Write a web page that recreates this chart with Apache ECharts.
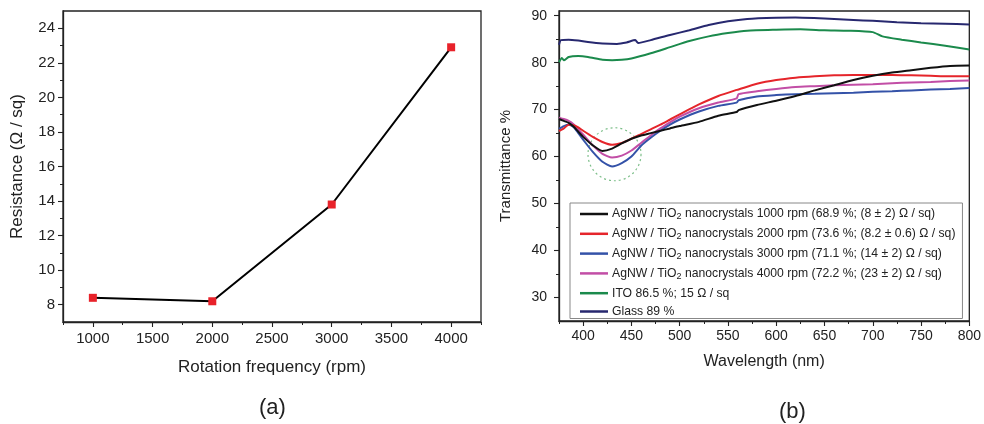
<!DOCTYPE html>
<html><head><meta charset="utf-8">
<script src="https://cdn.jsdelivr.net/npm/echarts@6/dist/echarts.min.js"></script>
<style>html,body{margin:0;padding:0;background:#fff}#c{width:984px;height:424px}</style>
</head><body><div id="c"></div>
<script>
// ---- panel (a) ----
const rpm = [1000, 2000, 3000, 4000];
const resistance = [8.4, 8.2, 13.8, 22.9];
const rpmTicks = [1000, 1500, 2000, 2500, 3000, 3500, 4000];
const rpmMinorTicks = [750, 1250, 1750, 2250, 2750, 3250, 3750, 4250];
const resTicks = [8, 10, 12, 14, 16, 18, 20, 22, 24];
const resMinorTicks = [9, 11, 13, 15, 17, 19, 21, 23];

// ---- panel (b) ----
const wl = [375, 380, 385, 390, 395, 400, 410, 420, 430, 440, 450, 460, 470, 480, 490, 500, 520, 540, 559, 561, 580, 600, 620, 640, 660, 680, 700, 720, 740, 760, 780, 800];
const t1000 = [68.0, 67.6, 67.2, 66.4, 65.3, 64.2, 62.4, 61.2, 61.7, 62.8, 63.8, 64.5, 65.0, 65.5, 66.0, 66.5, 67.4, 68.7, 69.5, 69.9, 71.0, 71.9, 72.9, 74.1, 75.2, 76.3, 77.2, 77.9, 78.4, 78.9, 79.3, 79.4];
const t2000 = [65.4, 66.0, 66.8, 66.7, 66.2, 65.5, 64.2, 63.1, 62.5, 62.9, 63.8, 64.8, 65.8, 66.8, 67.9, 69.0, 71.1, 72.9, 74.2, 74.3, 75.5, 76.3, 76.8, 77.1, 77.3, 77.4, 77.4, 77.4, 77.3, 77.2, 77.1, 77.1];
const t3000 = [65.9, 66.5, 66.8, 66.3, 65.0, 63.6, 61.0, 58.9, 57.9, 58.6, 60.0, 62.3, 64.0, 65.5, 66.8, 67.9, 69.6, 70.8, 71.5, 72.0, 72.8, 73.1, 73.3, 73.4, 73.5, 73.6, 73.8, 73.9, 74.1, 74.3, 74.4, 74.6];
const t4000 = [68.3, 68.0, 67.6, 66.9, 65.8, 64.7, 62.4, 60.6, 59.8, 60.2, 61.3, 62.9, 64.5, 66.0, 67.3, 68.5, 70.3, 71.5, 72.4, 73.3, 73.9, 74.4, 74.8, 75.0, 75.2, 75.3, 75.4, 75.6, 75.8, 75.9, 76.1, 76.2];
const wlITO = [375, 378, 380, 385, 395, 405, 420, 430, 440, 450, 470, 490, 510, 530, 550, 570, 600, 625, 650, 675, 700, 710, 730, 750, 775, 800];
const tITO = [80.1, 81.0, 80.5, 81.2, 81.4, 81.2, 80.6, 80.5, 80.6, 80.9, 82.0, 83.3, 84.6, 85.6, 86.3, 86.8, 87.0, 87.1, 86.9, 86.8, 86.5, 85.6, 84.9, 84.3, 83.6, 82.8];
const wlGlass = [375, 377, 385, 395, 405, 420, 435, 445, 454, 457, 470, 490, 510, 530, 550, 570, 600, 620, 650, 680, 700, 725, 750, 775, 800];
const tGlass = [83.8, 84.8, 84.9, 84.7, 84.4, 84.1, 84.0, 84.3, 84.8, 84.2, 84.8, 85.9, 86.9, 88.0, 88.8, 89.3, 89.55, 89.6, 89.4, 89.1, 88.9, 88.6, 88.4, 88.3, 88.1];
const seriesNames = [
  'AgNW / TiO2 nanocrystals 1000 rpm (68.9 %; (8 ± 2) Ω / sq)',
  'AgNW / TiO2 nanocrystals 2000 rpm (73.6 %; (8.2 ± 0.6) Ω / sq)',
  'AgNW / TiO2 nanocrystals 3000 rpm (71.1 %; (14 ± 2) Ω / sq)',
  'AgNW / TiO2 nanocrystals 4000 rpm (72.2 %; (23 ± 2) Ω / sq)',
  'ITO 86.5 %; 15 Ω / sq',
  'Glass 89 %'
];
const seriesColors = ['#111111', '#e5252b', '#3452a8', '#c24ea6', '#1b8a4c', '#27286f'];
const circleCenter = [432.5, 60.5];
const wlTicks = [400, 450, 500, 550, 600, 650, 700, 750, 800];
const wlMinorTicks = [375, 425, 475, 525, 575, 625, 675, 725, 775];
const tTicks = [30, 40, 50, 60, 70, 80, 90];
const tMinorTicks = [35, 45, 55, 65, 75, 85];

const FF = '"Liberation Sans", Arial, sans-serif';
const AX = '#222';
const pairs = (xs, ys) => xs.map((x, i) => [x, ys[i]]);

function mainAxis(grid, pos, min, max, ticks, extra) {
  return Object.assign({
    type: 'value', gridIndex: grid, position: pos, min: min, max: max,
    axisLine: { show: true, onZero: false, lineStyle: { color: AX, width: 1.3 } },
    axisTick: { show: true, customValues: ticks, length: 5, lineStyle: { color: AX, width: 1.1 } },
    axisLabel: { customValues: ticks, formatter: v => String(v), color: AX, fontFamily: FF },
    splitLine: { show: false }
  }, extra);
}
function minorAxis(grid, pos, min, max, ticks) {
  return {
    type: 'value', gridIndex: grid, position: pos, min: min, max: max,
    axisLine: { show: false, onZero: false },
    axisTick: { show: true, customValues: ticks, length: 3, lineStyle: { color: AX, width: 1 } },
    axisLabel: { show: false },
    splitLine: { show: false }
  };
}

const chart = echarts.init(document.getElementById('c'), null, { renderer: 'canvas' });
const lineSeries = [pairs(wl, t1000), pairs(wl, t2000), pairs(wl, t3000), pairs(wl, t4000), pairs(wlITO, tITO), pairs(wlGlass, tGlass)]
  .map((d, i) => ({
    type: 'line', name: seriesNames[i], xAxisIndex: 2, yAxisIndex: 2, data: d,
    symbol: 'none', showSymbol: false, smooth: 0.2,
    lineStyle: { color: seriesColors[i], width: 2 }, itemStyle: { color: seriesColors[i] },
    z: 3 + (5 - i)
  }));

chart.setOption({
  animation: false,
  backgroundColor: '#fff',
  textStyle: { fontFamily: FF },
  grid: [
    { left: 63, top: 11, width: 418, height: 311, show: true, borderColor: AX, borderWidth: 1.3 },
    { left: 559, top: 11, width: 413, height: 310, show: true, borderColor: AX, borderWidth: 1.3 }
  ],
  xAxis: [
    mainAxis(0, 'bottom', 750, 4250, rpmTicks, {
      name: 'Rotation frequency (rpm)', nameLocation: 'middle', nameGap: 37,
      nameTextStyle: { fontSize: 17, color: AX, fontFamily: FF },
      axisLabel: { customValues: rpmTicks, formatter: v => String(v), color: AX, fontFamily: FF, fontSize: 15, margin: 9 }
    }),
    minorAxis(0, 'bottom', 750, 4250, rpmMinorTicks),
    mainAxis(1, 'bottom', 375, 800, wlTicks, {
      name: 'Wavelength (nm)', nameLocation: 'middle', nameGap: 33,
      nameTextStyle: { fontSize: 16, color: AX, fontFamily: FF },
      axisLabel: { customValues: wlTicks, formatter: v => String(v), color: AX, fontFamily: FF, fontSize: 14, margin: 8 }
    }),
    minorAxis(1, 'bottom', 375, 800, wlMinorTicks)
  ],
  yAxis: [
    mainAxis(0, 'left', 7, 25, resTicks, {
      name: 'Resistance (Ω / sq)', nameLocation: 'middle', nameGap: 37,
      nameTextStyle: { fontSize: 17, color: AX, fontFamily: FF },
      axisLabel: { customValues: resTicks, formatter: v => String(v), color: AX, fontFamily: FF, fontSize: 15, margin: 8 }
    }),
    minorAxis(0, 'left', 7, 25, resMinorTicks),
    mainAxis(1, 'left', 25, 91, tTicks, {
      name: 'Transmittance %', nameLocation: 'middle', nameGap: 46,
      nameTextStyle: { fontSize: 15, color: AX, fontFamily: FF },
      axisLabel: { customValues: tTicks, formatter: v => String(v), color: AX, fontFamily: FF, fontSize: 14, margin: 12 }
    }),
    minorAxis(1, 'left', 25, 91, tMinorTicks)
  ],
  legend: {
    data: seriesNames, orient: 'vertical', left: 570, top: 203,
    padding: [5, 7, 1, 10], itemGap: 6.3, itemWidth: 28, itemHeight: 2.5, icon: 'rect',
    borderColor: '#888', borderWidth: 1, backgroundColor: '#fff',
    selectedMode: false,
    textStyle: {
      fontSize: 12.2, color: AX, fontFamily: FF, padding: [0, 0, 0, -1],
      rich: { s: { fontSize: 9, padding: [6, 0, 0, 0], color: AX, fontFamily: FF } }
    },
    formatter: name => name.replace('TiO2', 'TiO{s|2}')
  },
  graphic: [
    { type: 'text', left: 259, top: 397, style: { text: '(a)', fontSize: 22, fill: AX, fontFamily: FF } },
    { type: 'text', left: 779, top: 401, style: { text: '(b)', fontSize: 22, fill: AX, fontFamily: FF } }
  ],
  series: [
    {
      type: 'line', name: 'Resistance', xAxisIndex: 0, yAxisIndex: 0,
      data: pairs(rpm, resistance), smooth: false,
      symbol: 'rect', symbolSize: 8, showSymbol: true,
      lineStyle: { color: '#000', width: 2 }, itemStyle: { color: '#e8222a', borderWidth: 0 }, z: 5
    },
    {
      type: 'scatter', name: 'circle', xAxisIndex: 2, yAxisIndex: 2, silent: true,
      data: [circleCenter], symbol: 'circle', symbolSize: 53,
      itemStyle: { color: 'rgba(0,0,0,0)', borderColor: '#5aae6a', borderWidth: 1.2, borderType: [2, 3] }, z: 1
    }
  ].concat(lineSeries)
});
</script></body></html>
